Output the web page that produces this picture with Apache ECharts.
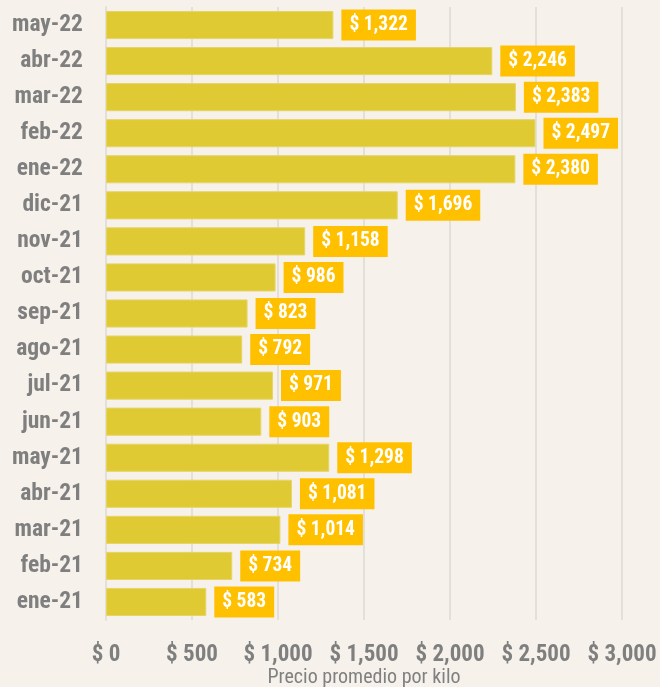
<!DOCTYPE html>
<html>
<head>
<meta charset="utf-8">
<script src="https://cdn.jsdelivr.net/npm/echarts@6/dist/echarts.min.js"></script>
<style>
  html, body { margin: 0; padding: 0; background: #f6f2eb; }
  #bar { width: 660px; height: 687px; }
</style>
</head>
<body>
<div id="bar"></div>
<script>
// months, bottom to top
var months = ['ene-21', 'feb-21', 'mar-21', 'abr-21', 'may-21', 'jun-21', 'jul-21', 'ago-21',
  'sep-21', 'oct-21', 'nov-21', 'dic-21', 'ene-22', 'feb-22', 'mar-22', 'abr-22', 'may-22'];
var precio = [583, 734, 1014, 1081, 1298, 903, 971, 792, 823, 986, 1158, 1696, 2380, 2497, 2383, 2246, 1322];
var xTicks = [0, 500, 1000, 1500, 2000, 2500, 3000];

function money(v) {
  return '$ ' + v.toLocaleString('en-US');
}

var chartDom = document.getElementById('bar');
var myChart = echarts.init(chartDom);
var narrow = '"Roboto Condensed", "Open Sans Condensed", sans-serif';

var option = {
  backgroundColor: '#f6f2eb',
  animation: false,
  grid: { left: 106, right: 38, top: 7, bottom: 67, containLabel: false, outerBoundsMode: 'none' },
  xAxis: {
    type: 'value',
    min: xTicks[0],
    max: xTicks[xTicks.length - 1],
    interval: 500,
    name: 'Precio promedio por kilo',
    nameLocation: 'middle',
    nameGap: 48,
    nameMoveOverlap: false,
    nameTextStyle: { color: '#808080', fontSize: 20, fontFamily: narrow },
    axisLine: { show: false },
    axisTick: { show: false },
    axisLabel: {
      color: '#7f7f7f', fontSize: 23, fontWeight: 'bold', fontFamily: narrow, margin: 24,
      formatter: function (v) { return money(v); }
    },
    splitLine: { show: true, lineStyle: { color: '#e3e0db', width: 2 } }
  },
  yAxis: {
    type: 'category',
    data: months,
    axisLine: { show: true, lineStyle: { color: '#e3e0db', width: 2 } },
    axisTick: { show: false },
    axisLabel: {
      color: '#7f7f7f', fontSize: 23.5, fontWeight: 'bold', fontFamily: narrow, margin: 23
    }
  },
  series: [
    {
      type: 'bar',
      data: precio,
      barCategoryGap: '22%',
      itemStyle: { color: '#dfca33', borderColor: '#e6d468', borderWidth: 1 },
      label: {
        show: true,
        position: 'right',
        distance: 8,
        backgroundColor: '#ffc000',
        padding: [6, 8, 5, 8],
        color: '#ffffff',
        fontSize: 19.5,
        fontWeight: 'bold',
        fontFamily: narrow,
        formatter: function (p) { return money(p.value); }
      }
    }
  ]
};
option && myChart.setOption(option);
</script>
</body>
</html>
